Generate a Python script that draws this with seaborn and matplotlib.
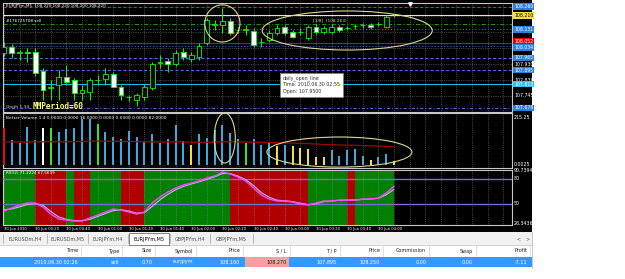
import matplotlib
matplotlib.use("Agg")
import matplotlib.pyplot as plt
from matplotlib.patches import Rectangle, Ellipse
import numpy as np
import pandas as pd
import seaborn as sns

# ---------------- data ----------------
bars = list(range(51))
opens = [107.994, 108.028, 107.994, 107.999, 107.999, 107.890, 107.791, 107.809, 107.855, 107.838,
         107.762, 107.768, 107.838, 107.843, 107.873, 107.797, 107.739, 107.722, 107.739, 107.791,
         107.936, 107.947, 107.930, 107.999, 107.959, 107.971, 108.052, 108.156, 108.156, 108.179,
         108.127, 108.127, 108.121, 108.057, 108.069, 108.110, 108.144, 108.115, 108.115, 108.081,
         108.144, 108.115, 108.115, 108.144, 108.138, 108.150, 108.156, 108.156, 108.162, 108.144,
         108.220]
highs = [108.057, 108.046, 108.011, 108.023, 108.023, 107.907, 107.838, 107.895, 107.924, 107.849,
         107.809, 107.849, 107.866, 107.907, 107.884, 107.809, 107.751, 107.762, 107.814, 107.942,
         107.982, 107.965, 108.011, 108.023, 107.999, 108.052, 108.196, 108.185, 108.254, 108.196,
         108.144, 108.156, 108.138, 108.081, 108.127, 108.156, 108.156, 108.127, 108.138, 108.156,
         108.162, 108.150, 108.162, 108.156, 108.150, 108.162, 108.167, 108.167, 108.173, 108.214,
         108.220]
lows = [107.976, 107.965, 107.953, 107.942, 107.861, 107.722, 107.722, 107.722, 107.809, 107.722,
        107.722, 107.722, 107.809, 107.809, 107.797, 107.722, 107.716, 107.688, 107.722, 107.780,
        107.907, 107.884, 107.918, 107.953, 107.942, 107.953, 108.040, 108.127, 108.110, 108.098,
        108.110, 108.098, 108.028, 108.028, 108.057, 108.098, 108.098, 108.081, 108.098, 108.069,
        108.104, 108.104, 108.104, 108.115, 108.127, 108.133, 108.138, 108.133, 108.150, 108.138,
        108.200]
closes = [108.028, 107.994, 107.999, 107.994, 107.878, 107.780, 107.797, 107.855, 107.826, 107.762,
          107.780, 107.838, 107.838, 107.873, 107.797, 107.751, 107.739, 107.751, 107.797, 107.930,
          107.942, 107.930, 107.994, 107.971, 107.982, 108.034, 108.185, 108.162, 108.179, 108.110,
          108.127, 108.133, 108.040, 108.057, 108.110, 108.138, 108.110, 108.086, 108.115, 108.144,
          108.115, 108.138, 108.144, 108.127, 108.138, 108.150, 108.156, 108.144, 108.162, 108.202,
          108.220]

volumes = [166, 112, 99, 170, 112, 166, 166, 148, 161, 166, 206, 206, 184, 148, 126, 117, 152, 126,
           103, 139, 99, 117, 179, 108, 90, 139, 121, 157, 179, 143, 117, 99, 117, 90, 99, 85, 90,
           85, 76, 72, 36, 36, 67, 40, 67, 72, 40, 22, 36, 49, 16]
volume_kind = list("RBBBBWLBBBBBLBBBBBBBBBBBYBBBBBBLBBBYBYYYYYBBBBBYBBY")
volume_avg = [104, 104, 103, 103, 104, 104, 104, 104, 104, 105, 106, 107, 107, 107, 106, 106, 106,
              105, 104, 104, 103, 103, 104, 103, 102, 102, 102, 103, 104, 104, 104, 103, 103, 102,
              101, 100, 99, 98, 97, 96, 94, 92, 91, 90, 89, 88, 87, 86, 85, 84, 82]

rsi_main = [41.5, 45.1, 48.7, 51.1, 51.1, 46.3, 37.9, 31.9, 30.7, 29.5, 29.5, 33.1, 36.7, 40.3,
            43.9, 42.7, 40.3, 37.9, 40.3, 51.1, 58.3, 64.3, 69.1, 72.7, 75.1, 77.5, 81.1, 83.5,
            88.3, 85.9, 82.3, 77.5, 69.1, 60.7, 55.9, 53.5, 53.5, 52.3, 49.9, 48.7, 51.1, 53.5,
            53.5, 54.7, 54.7, 54.7, 55.9, 55.9, 57.1, 63.1, 71.2]
rsi_signal = [43.0, 44.0, 46.5, 49.5, 50.5, 48.5, 41.0, 34.5, 31.5, 30.0, 29.8, 31.5, 35.0, 38.5,
              42.0, 43.0, 41.5, 39.0, 39.5, 47.0, 55.0, 61.5, 67.0, 71.0, 74.0, 76.5, 79.5, 82.5,
              86.5, 86.5, 83.5, 79.0, 72.0, 63.5, 58.0, 54.5, 53.8, 52.8, 50.8, 49.2, 50.2, 52.8,
              53.5, 54.3, 54.7, 54.7, 55.5, 55.9, 56.8, 61.0, 67.6]
rsi_zone = list("GGGGRRRRGRRGGGGRRRGGGGGGGGGGGRRRRRRRRRRGGGGGRGGGGG")
rsi_levels = [80, 50]

time_label_bars = [0, 4, 8, 12, 16, 20, 24, 28, 32, 36, 40, 44, 48]
time_labels = ["30 Jun 2010", "30 Jun 00:20", "30 Jun 00:40", "30 Jun 01:00", "30 Jun 01:20",
               "30 Jun 01:40", "30 Jun 02:00", "30 Jun 02:20", "30 Jun 02:40", "30 Jun 03:00",
               "30 Jun 03:20", "30 Jun 03:40", "30 Jun 04:00"]

price_grid = [108.2075, 108.115, 108.0225, 107.930, 107.8375, 107.745]
price_tick_labels = {107.930: "107.930", 107.8375: "107.838", 107.745: "107.745"}

# horizontal objects: price, colour, style, label, label colour, text colour, label offset
price_lines = [
    (108.262, "#c83030", (0, (3, 2)), "108.260", "#2f7fe0", "white", 0.0),
    (108.212, "#e8e8b0", "-", "108.210", "#f0e040", "black", 0.0),
    (108.160, "#109a10", (0, (4, 2, 1, 2)), None, None, None, 0.0),
    (108.131, "#4060ff", (0, (1, 2)), "108.131", "#2f7fe0", "white", 0.0),
    (108.052, "#d00000", "-", "108.052", "#e00000", "white", 0.008),
    (108.034, "#4060ff", (0, (1, 2)), "108.034", "#2f7fe0", "white", -0.006),
    (107.965, "#4a6adf", (0, (3, 2)), "107.965", "#2f7fe0", "white", 0.0),
    (107.895, "#4a6adf", (0, (3, 2)), "107.895", "#2f7fe0", "white", 0.0),
    (107.814, "#20b8f8", "-", "107.813", "#30c0f0", "white", 0.0),
    (107.676, "#4a6adf", (0, (3, 2, 1, 2)), "107.676", "#2f7fe0", "white", 0.0),
]

tab_names = ["EURUSDm,H4", "EURUSDm,M5", "EURJPYm,H4", "EURJPYm,M5", "GBPJPYm,H4", "GBPJPYm,M5"]
table_headers = ["Time", "Type", "Size", "Symbol", "Price", "S / L", "T / P", "Price",
                 "Commission", "Swap", "Profit"]
table_values = ["2010.06.30 02:26", "sell", "0.70", "eurjpym", "108.160", "108.270", "107.895",
                "108.250", "0.00", "0.00", "-7.11"]

# ---------------- style ----------------
sns.set_theme(style="dark")
plt.rcParams['font.family'] = ['DejaVu Sans']

W, H = 625, 279
fig = plt.figure(figsize=(6.25, 2.79), dpi=100)
fig.patch.set_facecolor("white")


def fx(x):
    return x / W


def fy(y):
    return 1 - y / H


def frect(x0, y0, x1, y1, **kw):
    fig.patches.append(Rectangle((fx(x0), fy(y1)), fx(x1 - x0), (y1 - y0) / H,
                                 transform=fig.transFigure, **kw))


def ftext(x, y, s, **kw):
    kw.setdefault("zorder", 5)
    fig.text(fx(x), fy(y), s, **kw)


frect(0, 0, 532, 232, facecolor="black", edgecolor="none", zorder=-5)

XL = (-0.128, 65.128)
LIME = "#00ff00"
GRIDC = "#9a9a9a"
FRAME = "#c8c8c8"


def style_ax(ax):
    ax.set_facecolor("black")
    ax.set_xlim(*XL)
    ax.set_xticks([])
    ax.set_yticks([])
    ax.set_xlabel("")
    ax.set_ylabel("")
    ax.grid(False)
    for s in ax.spines.values():
        s.set_color(FRAME)
        s.set_linewidth(0.8)
        s.set_visible(True)


def vgrid(ax):
    for i in range(0, 66, 2):
        ax.axvline(i, color=GRIDC, lw=0.45, ls=(0, (1, 2)), zorder=2)


# ---------------- main price panel ----------------
ax1 = fig.add_axes([fx(3), fy(112), fx(509), 109 / H])
style_ax(ax1)
ax1.set_ylim(107.6524, 108.2831)
vgrid(ax1)
for p in price_grid:
    ax1.axhline(p, color=GRIDC, lw=0.45, ls=(0, (1, 2)), zorder=2)
for p, col, ls, lab, bg, tc, off in price_lines:
    ax1.axhline(p, color=col, lw=0.75, ls=ls, zorder=2.5)
ytr = ax1.get_yaxis_transform()
for p, lab in price_tick_labels.items():
    ax1.text(1.004, p, lab, transform=ytr, fontsize=3.4, color="white", va="center", ha="left",
             clip_on=False)
for p, col, ls, lab, bg, tc, off in price_lines:
    if lab:
        ax1.text(1.004, p + off, lab, transform=ytr, fontsize=3.3, color=tc, va="center",
                 ha="left", clip_on=False,
                 bbox=dict(boxstyle="square,pad=0.2", facecolor=bg, edgecolor="none"))

o = np.array(opens); c = np.array(closes); hi = np.array(highs); lo = np.array(lows)
xb = np.array(bars)
ax1.vlines(xb, lo, hi, color=LIME, lw=0.7, zorder=3)
body_bot = np.minimum(o, c)
body_h = np.maximum(np.abs(c - o), 0.0022)
body_col = np.where(c >= o, "black", "white")
ax1.bar(xb, body_h, bottom=body_bot, width=0.62, color=body_col, edgecolor=LIME, linewidth=0.6,
        zorder=4)

ax1.add_patch(Ellipse((28.0, 108.165), 4.5, 0.215, fill=False, edgecolor="#d8d890", lw=0.8,
                      zorder=6, clip_on=False))
ax1.add_patch(Ellipse((44.0, 108.124), 21.8, 0.226, fill=False, edgecolor="#d8d890", lw=0.8,
                      zorder=6))
ax1.text(39.6, 108.185, "[1/8]  (108.263)", fontsize=3.1, color="#d8d8a0", va="center", zorder=6)
ax1.plot([52.05], [108.277], marker="v", color="white", ms=2.5, zorder=7, clip_on=False)

ftext(6, 6.5, "EURJPYm,M5  108.220 108.220 108.200 108.220", fontsize=3.0, color="white",
      va="center")
ftext(6, 21, "#176725708 sell", fontsize=3.0, color="white", va="center")
ftext(6, 107.5, "Groth 1.34", fontsize=3.2, color="#e0e0a0", va="center")
ftext(33, 106.5, "MMPeriod=60", fontsize=5.6, color="#ffff66", va="center",
      family="DejaVu Sans Mono", weight="bold")

# tooltip
frect(280, 73, 343, 97, facecolor="white", edgecolor="#808080", lw=0.6, zorder=8)
ftext(283, 78, "daily_open_line", fontsize=3.4, color="#303030", va="center", zorder=9)
ftext(283, 85, "Time: 2010.06.30 02:55", fontsize=3.4, color="#303030", va="center", zorder=9)
ftext(283, 92, "Open: 107.9500", fontsize=3.4, color="#303030", va="center", zorder=9)

# ---------------- volume panel ----------------
ax2 = fig.add_axes([fx(3), fy(168), fx(509), 55 / H])
vol_df = pd.DataFrame({"bar": bars, "volume": volumes, "kind": volume_kind})
vol_pal = {"B": "#3fa8dc", "R": "#e01010", "W": "#ffffff", "L": "#40e020", "Y": "#f0e040"}
sns.barplot(data=vol_df, x="bar", y="volume", hue="kind", palette=vol_pal, native_scale=True,
            width=0.28, dodge=False, legend=False, errorbar=None, saturation=1, linewidth=0,
            edgecolor="none", ax=ax2, zorder=3)
sns.lineplot(x=bars, y=volume_avg, color="#a00000", lw=0.9, ax=ax2, zorder=4)
style_ax(ax2)
ax2.set_ylim(-13.45, 233.2)
vgrid(ax2)
ax2.add_patch(Ellipse((28.3, 121), 2.7, 224, fill=False, edgecolor="#d8d890", lw=0.8, zorder=6))
ax2.add_patch(Ellipse((43.0, 58), 18.6, 135, fill=False, edgecolor="#d8d890", lw=0.8, zorder=6))
ftext(6, 118, "Better Volume 1.4 0.0000 0.0000 16.0000 0.0000 0.0000 0.0000 82.0000",
      fontsize=3.2, color="white", va="center")
ftext(514, 117, "215.25", fontsize=3.4, color="white", va="center")
ftext(514, 165, "0.0025", fontsize=3.4, color="white", va="center")

# ---------------- RSI panel ----------------
ax3 = fig.add_axes([fx(3), fy(225), fx(509), 55 / H])
zone_col = {"G": "#008000", "R": "#b00000"}
ax3.axvspan(-0.2, 0, color=zone_col[rsi_zone[0]], lw=0, zorder=1)
for i, z in enumerate(rsi_zone):
    ax3.axvspan(i, i + 1, color=zone_col[z], lw=0, zorder=1)
for lv in rsi_levels:
    ax3.axhline(lv, color="#6e72d8", lw=1.0, zorder=2.6)
sns.lineplot(x=bars, y=rsi_signal, color="#b0c8e8", lw=0.8, ax=ax3, zorder=4)
sns.lineplot(x=bars, y=rsi_main, color="#ff40ff", lw=1.1, ax=ax3, zorder=5)
style_ax(ax3)
ax3.set_ylim(24.74, 90.74)
vgrid(ax3)
ftext(6, 173, "RSI(2) 71.2224 67.5639", fontsize=3.0, color="white", va="center")
for val, lab in [(89.6, "90.7394"), (80, "80"), (50, "50"), (26.6, "26.3436")]:
    ax3.text(1.004, val, lab, transform=ax3.get_yaxis_transform(), fontsize=3.4,
             color="white", va="center", ha="left", clip_on=False)
xtr = ax3.get_xaxis_transform()
for b, lab in zip(time_label_bars, time_labels):
    ax3.text(b, -0.065, lab, transform=xtr, fontsize=2.7, color="white", va="center", ha="left",
             clip_on=False)

# ---------------- terminal / tabs ----------------
frect(0, 232, 532, 245, facecolor="#f0f0f0", edgecolor="none", zorder=1)
tab_edges = [3, 47, 88, 128, 170, 210, 253]
for k, name in enumerate(tab_names):
    x0, x1 = tab_edges[k], tab_edges[k + 1]
    if name == "EURJPYm,M5":
        frect(x0 + 1, 233, x1 - 1, 245, facecolor="white", edgecolor="#707070", lw=0.6, zorder=2)
        ftext((x0 + x1) / 2, 239, name, fontsize=3.5, color="black", ha="center", va="center")
    else:
        ftext((x0 + x1) / 2, 239, name, fontsize=3.5, color="#505050", ha="center", va="center")
for xe in tab_edges:
    fig.add_artist(plt.Line2D([fx(xe), fx(xe)], [fy(234), fy(243)], color="#a0a0a0", lw=0.5,
                              transform=fig.transFigure))
ftext(519, 238.5, "<", fontsize=3.5, color="#606060", ha="center", va="center")
ftext(527, 238.5, ">", fontsize=3.5, color="#606060", ha="center", va="center")

frect(0, 245, 532, 257, facecolor="white", edgecolor="none", zorder=1)
fig.add_artist(plt.Line2D([0, fx(532)], [fy(245), fy(245)], color="#c0c0c0", lw=0.5,
                          transform=fig.transFigure))
col_right = [78, 119, 152, 193, 240, 287, 337, 380, 426, 473, 527]
for xr, hd in zip(col_right, table_headers):
    ftext(xr, 251, hd, fontsize=3.5, color="#202020", ha="right", va="center")
    fig.add_artist(plt.Line2D([fx(xr + 3), fx(xr + 3)], [fy(246), fy(256)], color="#d0d0d0",
                              lw=0.5, transform=fig.transFigure))
frect(0, 257, 532, 267, facecolor="#3399ff", edgecolor="none", zorder=1)
frect(245, 257, 289, 267, facecolor="#f2a0a0", edgecolor="none", zorder=2)
for k, (xr, v) in enumerate(zip(col_right, table_values)):
    ftext(xr, 262, v, fontsize=3.5, color="#202020" if k == 5 else "white", ha="right",
          va="center")
fig.add_artist(plt.Line2D([fx(532), fx(532)], [fy(232), fy(268)], color="#c0c0c0", lw=0.6,
                          transform=fig.transFigure))

fig.savefig("out.png", dpi=100, facecolor=fig.get_facecolor())
